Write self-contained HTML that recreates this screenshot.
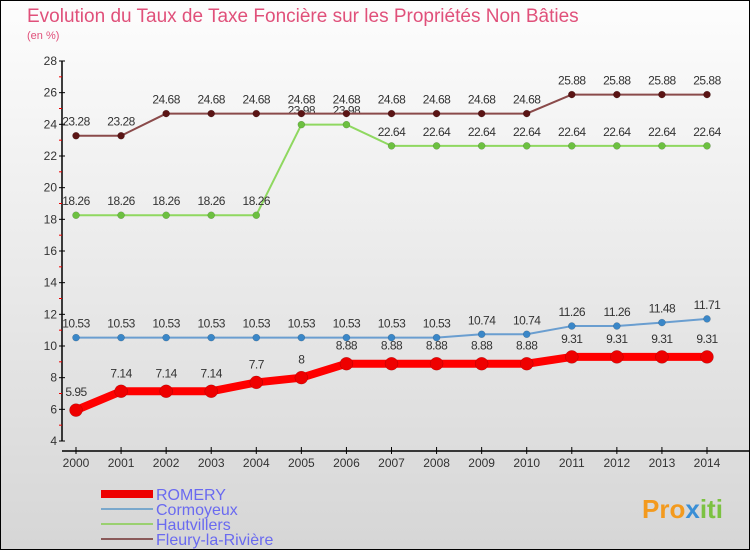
<!DOCTYPE html>
<html><head><meta charset="utf-8"><style>
body{margin:0}
#c{width:750px;height:550px;position:relative;background:linear-gradient(#fdfdfd,#d6d6d6);box-sizing:border-box;border:1px solid #000;font-family:"Liberation Sans",sans-serif;overflow:hidden}
svg{position:absolute;left:0;top:0}
</style></head><body>
<div id="c">
<svg id="s" width="750" height="550">
<text x="26" y="21" font-size="19" fill="#e0507a">Evolution du Taux de Taxe Foncière sur les Propriétés Non Bâties</text>
<text x="26" y="38" font-size="11" fill="#e0507a">(en %)</text>
<text x="641" y="517" font-size="26" font-weight="bold" fill="#f39a1e">Pro<tspan fill="#3a8fd6">x</tspan><tspan fill="#7cc242">iti</tspan></text>
</svg>
</div>
<script>
const years=[2000,2001,2002,2003,2004,2005,2006,2007,2008,2009,2010,2011,2012,2013,2014];
const romery=[5.95,7.14,7.14,7.14,7.7,8,8.88,8.88,8.88,8.88,8.88,9.31,9.31,9.31,9.31];
const cormoyeux=[10.53,10.53,10.53,10.53,10.53,10.53,10.53,10.53,10.53,10.74,10.74,11.26,11.26,11.48,11.71];
const hautvillers=[18.26,18.26,18.26,18.26,18.26,23.98,23.98,22.64,22.64,22.64,22.64,22.64,22.64,22.64,22.64];
const fleury=[23.28,23.28,24.68,24.68,24.68,24.68,24.68,24.68,24.68,24.68,24.68,25.88,25.88,25.88,25.88];
const yTicks=[4,6,8,10,12,14,16,18,20,22,24,26,28];
const seriesNames=["ROMERY","Cormoyeux","Hautvillers","Fleury-la-Rivière"];
const S=document.getElementById('s'),NS='http://www.w3.org/2000/svg';
function X(i){return 75+i*(706-75)/(years.length-1);}
function Y(v){return 440-(v-4)*(380/24);}
function el(t,a,p){const e=document.createElementNS(NS,t);for(const k in a)e.setAttribute(k,a[k]);(p||S).appendChild(e);return e;}
function fmt(v){return String(v);}
// axes
let ax=el('line',{x1:61,y1:60,x2:61,y2:440,stroke:'#000','stroke-width':1.5});


yTicks.forEach(t=>{
 el('line',{x1:58,x2:64,y1:Y(t),y2:Y(t),stroke:'#000'});
 el('line',{x1:58,x2:61,y1:Y(t+1),y2:Y(t+1),stroke:'#e00'}).style.display=t<28?'':'none';
 const tx=el('text',{x:56,y:Y(t)+4,'font-size':12,fill:'#333','text-anchor':'end'});tx.textContent=t;
 
 
});
let xa=el('line',{x1:61,y1:450,x2:749,y2:450,stroke:'#000','stroke-width':1.5});


years.forEach((yr,i)=>{
 el('line',{x1:X(i),x2:X(i),y1:446,y2:453,stroke:'#000'});
 const tx=el('text',{x:X(i),y:466,'font-size':12,fill:'#333','text-anchor':'middle'});tx.textContent=yr;
 
 
});
function series(vals,color,dot,w,r,name,labels,labDy){
 const g=el('g',{});
 
 
 el('polyline',{points:vals.map((v,i)=>X(i)+','+Y(v)).join(' '),fill:'none',stroke:color,'stroke-width':w,'stroke-linejoin':'round'},g);
 vals.forEach((v,i)=>{
  const c=el('circle',{cx:X(i),cy:Y(v),r:r,fill:dot,stroke:'rgba(0,0,0,0.25)','stroke-width':0.5},g);
  
  
  if(labels){const t=el('text',{x:X(i),y:Y(v)+labDy,'font-size':12,fill:'#333','text-anchor':'middle','letter-spacing':'-0.5'},g);t.textContent=fmt(v);}
 });
}
series(cormoyeux,'#6a9ed0','#3a87c8',2,3.5,'cormoyeux-series',true,-10);
series(hautvillers,'#8fd860','#6cc040',2,3.5,'hautvillers-series',true,-10);
series(fleury,'#8a4a4a','#5a1414',2,3.5,'fleury-series',true,-10);
series(romery,'#f00','#e00',8,6.5,'romery-series',true,-14);
// legend
const lg=[['#e00',8],['#7aa8cc',2],['#9ad070',2],['#8a5a5a',2]];
seriesNames.forEach((n,i)=>{
 const y=493+i*15;
 el('line',{x1:100,x2:152,y1:y,y2:y,stroke:lg[i][0],'stroke-width':lg[i][1]});
 const t=el('text',{x:155,y:y+6,'font-size':16,fill:'#6a6af0'});t.textContent=n;
 
 
});
</script>
</body></html>
